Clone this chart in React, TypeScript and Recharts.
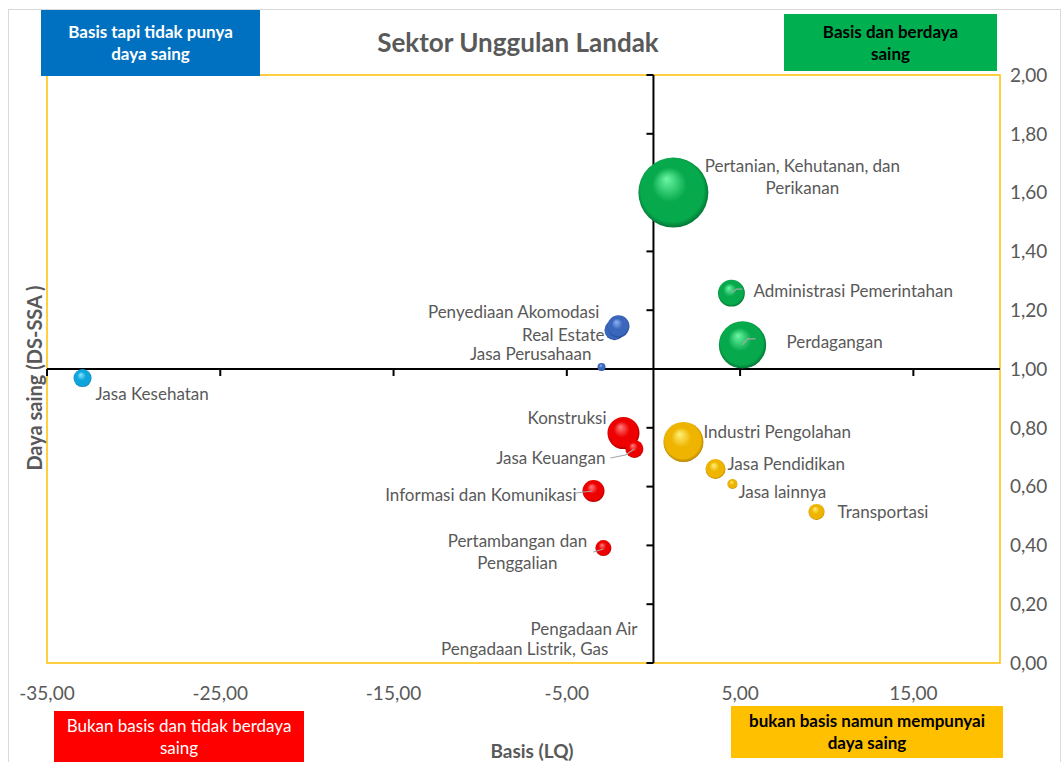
import React from "react";
import {
  ReferenceArea,
  ReferenceDot,
  ReferenceLine,
  Scatter,
  ScatterChart,
  XAxis,
  YAxis,
  ZAxis,
} from "recharts";

const FONT = "Lato, 'Open Sans', sans-serif";
const GREY = "#595959";

// basis dan berdaya saing
const hijauNama = ["Pertanian, Kehutanan, dan Perikanan", "Administrasi Pemerintahan", "Perdagangan"];
const hijauLQ = [1.15, 4.5, 5.14];
const hijauDS = [1.6, 1.258, 1.082];
const hijauUkuran = [1225, 180, 560];

// basis tapi tidak punya daya saing
const biruNama = ["Real Estate", "Penyediaan Akomodasi", "Jasa Perusahaan"];
const biruLQ = [-2.25, -2.02, -3.0];
const biruDS = [1.132, 1.145, 1.007];
const biruUkuran = [100, 121, 16];

const kesehatanNama = ["Jasa Kesehatan"];
const kesehatanLQ = [-32.95];
const kesehatanDS = [0.969];
const kesehatanUkuran = [81];

// bukan basis dan tidak berdaya saing
const merahNama = [
  "Konstruksi",
  "Jasa Keuangan",
  "Informasi dan Komunikasi",
  "Pertambangan dan Penggalian",
  "Pengadaan Air",
  "Pengadaan Listrik, Gas",
];
const merahLQ = [-1.73, -1.1, -3.46, -2.89, -0.92, -2.6];
const merahDS = [0.782, 0.728, 0.585, 0.391, 0.119, 0.051];
const merahUkuran = [256, 81, 121, 64, 0, 0];

// bukan basis namun mempunyai daya saing
const kuningNama = ["Industri Pengolahan", "Jasa Pendidikan", "Jasa lainnya", "Transportasi"];
const kuningLQ = [1.73, 3.58, 4.56, 9.41];
const kuningDS = [0.752, 0.66, 0.609, 0.514];
const kuningUkuran = [400, 100, 25, 64];

const xTicks = [-35, -25, -15, -5, 5, 15];
const yTicks = [0, 0.2, 0.4, 0.6, 0.8, 1, 1.2, 1.4, 1.6, 1.8, 2];

const toRows = (nama: string[], lq: number[], ds: number[], ukuran: number[]) =>
  nama.map((n, i) => ({ name: n, lq: lq[i], ds: ds[i], z: ukuran[i] }));

const fmt = (v: number) => v.toFixed(2).replace(".", ",");

type Layout = {
  dx: number;
  dy: number;
  anchor: "start" | "middle" | "end";
  firstLine?: number;
  leader?: number[][];
};

// label placement relative to bubble centre (px)
const labelLayout: Record<string, Layout> = {
  "Pertanian, Kehutanan, dan Perikanan": { dx: 129, dy: -27, anchor: "middle", firstLine: 3 },
  "Administrasi Pemerintahan": { dx: 22, dy: -3, anchor: "start", leader: [[0, 0], [5, -4], [11, -4]] },
  Perdagangan: { dx: 44, dy: -3, anchor: "start", leader: [[0, 0], [5, -6], [13, -6]] },
  "Penyediaan Akomodasi": { dx: -19, dy: -15, anchor: "end" },
  "Real Estate": { dx: -10, dy: 4, anchor: "end" },
  "Jasa Perusahaan": { dx: -10, dy: -13, anchor: "end" },
  "Jasa Kesehatan": { dx: 13, dy: 15, anchor: "start" },
  Konstruksi: { dx: -17, dy: -16, anchor: "end" },
  "Jasa Keuangan": { dx: -29, dy: 9, anchor: "end", leader: [[-24, 9], [-9, 6], [0, 0]] },
  "Informasi dan Komunikasi": { dx: -17, dy: 3, anchor: "end", leader: [[-18, 2], [-1, 0]] },
  "Pertambangan dan Penggalian": { dx: -86, dy: -8, anchor: "middle", firstLine: 2, leader: [[-10, 4], [0, 1]] },
  "Pengadaan Air": { dx: 0, dy: 0, anchor: "end" },
  "Pengadaan Listrik, Gas": { dx: 0, dy: 0, anchor: "end" },
  "Industri Pengolahan": { dx: 20, dy: -10, anchor: "start" },
  "Jasa Pendidikan": { dx: 12, dy: -5, anchor: "start" },
  "Jasa lainnya": { dx: 6, dy: 8, anchor: "start" },
  Transportasi: { dx: 21, dy: 0, anchor: "start" },
};

function Bubble(props: any) {
  const { cx, cy, width, payload, grad } = props;
  const r = (width || 0) / 2;
  const lay = labelLayout[payload.name];
  const words = String(payload.name).split(" ");
  const lines = lay?.firstLine
    ? [words.slice(0, lay.firstLine).join(" "), words.slice(lay.firstLine).join(" ")]
    : [payload.name];
  return (
    <g>
      {r > 0.5 && <circle cx={cx} cy={cy} r={r} fill={`url(#${grad})`} />}
      {lay?.leader && (
        <polyline
          points={lay.leader.map(([a, b]) => `${cx + a},${cy + b}`).join(" ")}
          fill="none"
          stroke="#A6A6A6"
          strokeWidth={1.2}
        />
      )}
      {lay &&
        lines.map((t, i) => (
          <text
            key={i}
            x={cx + lay.dx}
            y={cy + lay.dy + i * 22}
            textAnchor={lay.anchor}
            dominantBaseline="central"
            fontSize={17}
            fontFamily={FONT}
            fill={GREY}
          >
            {t}
          </text>
        ))}
    </g>
  );
}

const gradients = [
  { id: "g-hijau", light: "#6CF7A4", mid: "#06A94C", dark: "#03582A" },
  { id: "g-biru", light: "#8FB4F5", mid: "#3A66BC", dark: "#1B3B78" },
  { id: "g-cyan", light: "#8EE8FF", mid: "#0EA4DC", dark: "#055C82" },
  { id: "g-merah", light: "#FF8080", mid: "#EE0000", dark: "#850000" },
  { id: "g-kuning", light: "#FFF27A", mid: "#EEB400", dark: "#946900" },
];

function Box({ left, top, width, height, bg, color, bold, lines }: any) {
  return (
    <div
      style={{
        position: "absolute",
        left,
        top,
        width,
        height,
        background: bg,
        color,
        fontFamily: FONT,
        fontWeight: bold ? 700 : 400,
        fontSize: 17,
        lineHeight: "22px",
        textAlign: "center",
        display: "flex",
        flexDirection: "column",
        justifyContent: "center",
      }}
    >
      {lines.map((l: string) => (
        <div key={l}>{l}</div>
      ))}
    </div>
  );
}

export default function App() {
  const series = [
    { key: "hijau", grad: "g-hijau", data: toRows(hijauNama, hijauLQ, hijauDS, hijauUkuran) },
    { key: "biru", grad: "g-biru", data: toRows(biruNama, biruLQ, biruDS, biruUkuran) },
    { key: "cyan", grad: "g-cyan", data: toRows(kesehatanNama, kesehatanLQ, kesehatanDS, kesehatanUkuran) },
    { key: "merah", grad: "g-merah", data: toRows(merahNama, merahLQ, merahDS, merahUkuran) },
    { key: "kuning", grad: "g-kuning", data: toRows(kuningNama, kuningLQ, kuningDS, kuningUkuran) },
  ];

  return (
    <div style={{ position: "absolute", left: 0, top: 0, width: 1061, height: 762, background: "#fff", overflow: "hidden" }}>
      <div style={{ position: "absolute", left: 8, top: 9, width: 1051, height: 770, border: "1px solid #D9D9D9" }} />
      <div style={{ position: "absolute", left: 0, top: 0 }}>
        <ScatterChart width={1061} height={762} margin={{ top: 75, right: 1, bottom: 49, left: 47 }}>
          <defs>
            {gradients.map((g) => (
              <radialGradient key={g.id} id={g.id} cx="0.5" cy="0.5" r="0.55" fx="0.4" fy="0.3">
                <stop offset="0%" stopColor={g.light} />
                <stop offset="45%" stopColor={g.mid} />
                <stop offset="82%" stopColor={g.mid} />
                <stop offset="100%" stopColor={g.dark} />
              </radialGradient>
            ))}
          </defs>
          <XAxis
            type="number"
            dataKey="lq"
            domain={[-35, 20]}
            ticks={xTicks}
            allowDataOverflow
            axisLine={false}
            tickLine={false}
            tickSize={0}
            tickMargin={24}
            tickFormatter={fmt}
            tick={{ fontSize: 19, fill: GREY, fontFamily: FONT }}
            height={50}
          />
          <YAxis
            type="number"
            dataKey="ds"
            orientation="right"
            domain={[0, 2]}
            ticks={yTicks}
            allowDataOverflow
            axisLine={false}
            tickLine={false}
            tickSize={0}
            tickMargin={10}
            tickFormatter={fmt}
            tick={{ fontSize: 19, fill: GREY, fontFamily: FONT }}
            width={60}
          />
          <ZAxis type="number" dataKey="z" domain={[0, 1225]} range={[0, 1225 * Math.PI]} />
          <ReferenceArea x1={-35} x2={20} y1={0} y2={2} fill="none" stroke="#FFC000" strokeWidth={1.5} fillOpacity={0} />
          <ReferenceLine x={0} stroke="#000" strokeWidth={2} />
          <ReferenceLine y={1} stroke="#000" strokeWidth={2} />
          {xTicks.map((v) => (
            <ReferenceDot
              key={`xt${v}`}
              x={v}
              y={1}
              r={1}
              shape={(p: any) => <line x1={p.cx} y1={p.cy} x2={p.cx} y2={p.cy + 7} stroke="#000" strokeWidth={2} />}
            />
          ))}
          {yTicks.map((v) => (
            <ReferenceDot
              key={`yt${v}`}
              x={0}
              y={v}
              r={1}
              shape={(p: any) => <line x1={p.cx - 7} y1={p.cy} x2={p.cx} y2={p.cy} stroke="#000" strokeWidth={2} />}
            />
          ))}
          {series.map((s) => (
            <Scatter
              key={s.key}
              data={s.data}
              isAnimationActive={false}
              shape={(p: any) => <Bubble {...p} grad={s.grad} />}
            />
          ))}
        </ScatterChart>
      </div>
      <div
        style={{
          position: "absolute",
          left: 0,
          width: 1036,
          top: 26,
          textAlign: "center",
          fontFamily: FONT,
          fontWeight: 700,
          fontSize: 26,
          color: GREY,
        }}
      >
        Sektor Unggulan Landak
      </div>
      <div
        style={{
          position: "absolute",
          left: 432,
          width: 200,
          top: 739,
          textAlign: "center",
          fontFamily: FONT,
          fontWeight: 700,
          fontSize: 19,
          color: GREY,
        }}
      >
        Basis (LQ)
      </div>
      <div
        style={{
          position: "absolute",
          left: 34,
          top: 378,
          transform: "translate(-50%, -50%) rotate(-90deg)",
          whiteSpace: "nowrap",
          fontFamily: FONT,
          fontWeight: 700,
          fontSize: 20,
          color: GREY,
        }}
      >
        Daya saing (DS-SSA )
      </div>
      <Box left={41} top={10} width={219} height={66} bg="#0070C0" color="#fff" bold lines={["Basis tapi tidak punya", "daya saing"]} />
      <Box left={784} top={14} width={213} height={57} bg="#00B050" color="#000" bold lines={["Basis dan berdaya", "saing"]} />
      <Box left={54} top={711} width={250} height={51} bg="#FF0000" color="#fff" lines={["Bukan basis dan tidak berdaya", "saing"]} />
      <Box left={731} top={706} width={272} height={52} bg="#FFC000" color="#000" bold lines={["bukan basis namun mempunyai", "daya saing"]} />
    </div>
  );
}
